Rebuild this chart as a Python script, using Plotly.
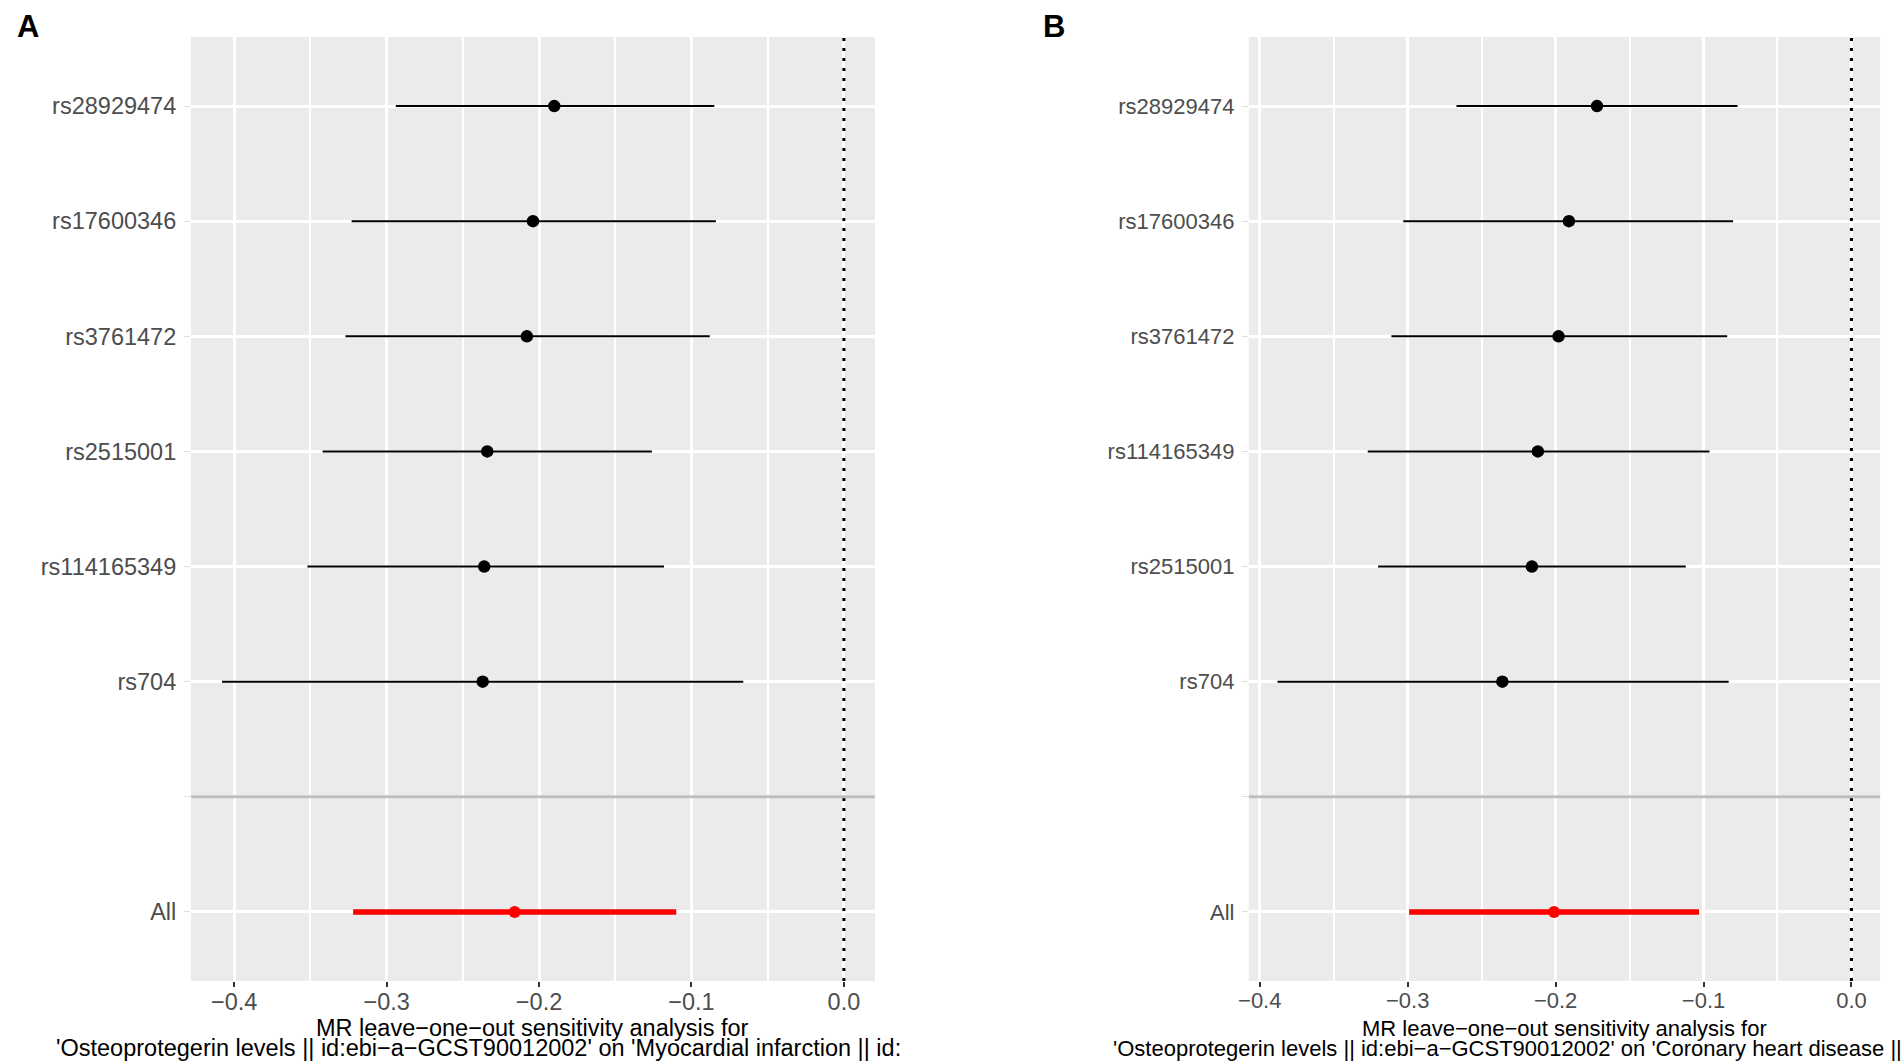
import plotly.graph_objects as go

W, H = 1904, 1062

# ---- Panel A data (Myocardial infarction) ----
snps_a = ["rs28929474", "rs17600346", "rs3761472", "rs2515001", "rs114165349", "rs704"]
b_a = [-0.190, -0.204, -0.208, -0.234, -0.236, -0.237]
lo_a = [-0.294, -0.323, -0.327, -0.342, -0.352, -0.408]
hi_a = [-0.085, -0.084, -0.088, -0.126, -0.118, -0.066]
all_a = [-0.216, -0.322, -0.110]   # b, lo, hi

# ---- Panel B data (Coronary heart disease) ----
snps_b = ["rs28929474", "rs17600346", "rs3761472", "rs114165349", "rs2515001", "rs704"]
b_b = [-0.172, -0.191, -0.198, -0.212, -0.216, -0.236]
lo_b = [-0.267, -0.303, -0.311, -0.327, -0.320, -0.388]
hi_b = [-0.077, -0.080, -0.084, -0.096, -0.112, -0.083]
all_b = [-0.201, -0.299, -0.103]

x_ticks = [-0.4, -0.3, -0.2, -0.1, 0.0]
null_effect = 0.0
title_line1 = "MR leave\u2212one\u2212out sensitivity analysis for"
title_a2 = "'Osteoprotegerin levels || id:ebi\u2212a\u2212GCST90012002' on 'Myocardial infarction || id:"
title_b2 = "'Osteoprotegerin levels || id:ebi\u2212a\u2212GCST90012002' on 'Coronary heart disease ||"

FONT = "Liberation Sans, Arial, sans-serif"
BG = "#EBEBEB"

panels = [
    dict(snps=snps_a, b=b_a, lo=lo_a, hi=hi_a, all=all_a, xd=(181, 869), fs=23.5,
         t1c=525, t2=title_a2, t2x=43, label="A", lx=4),
    dict(snps=snps_b, b=b_b, lo=lo_b, hi=hi_b, all=all_b, xd=(1245, 1880), fs=22,
         t1c=1563, t2=title_b2, t2x=1106, label="B", lx=1036),
]

fig = go.Figure()
PLOT_TOP, PLOT_BOT = 37, 981
y_dom = [1 - PLOT_BOT / H, 1 - PLOT_TOP / H]

for i, p in enumerate(panels, start=1):
    xa = "x" if i == 1 else f"x{i}"
    ya = "y" if i == 1 else f"y{i}"
    levels = ["All", ""] + p["snps"][::-1]
    ypos = [levels.index(s) + 1 for s in p["snps"]]
    y_all = levels.index("All") + 1
    y_blank = levels.index("") + 1
    yr = [0.4, len(levels) + 0.6]

    # dotted reference line at zero (drawn first, under the estimates)
    fig.add_trace(go.Scatter(
        x=[null_effect, null_effect], y=yr, xaxis=xa, yaxis=ya, mode="lines",
        line=dict(color="black", width=3, dash="3px,7px"),
        showlegend=False, hoverinfo="skip", cliponaxis=True))

    fig.add_trace(go.Scatter(
        x=p["b"], y=ypos, xaxis=xa, yaxis=ya, mode="markers",
        marker=dict(color="black", size=12.5),
        error_x=dict(type="data", symmetric=False,
                     array=[h - b for h, b in zip(p["hi"], p["b"])],
                     arrayminus=[b - l for b, l in zip(p["b"], p["lo"])],
                     color="black", thickness=2, width=0),
        showlegend=False, hoverinfo="skip"))
    ba, la, ha = p["all"]
    fig.add_trace(go.Scatter(
        x=[ba], y=[y_all], xaxis=xa, yaxis=ya, mode="markers",
        marker=dict(color="#FF0000", size=12),
        error_x=dict(type="data", symmetric=False, array=[ha - ba], arrayminus=[ba - la],
                     color="#FF0000", thickness=5.5, width=0),
        showlegend=False, hoverinfo="skip"))

    lo_all = min(p["lo"] + [la, null_effect])
    hi_all = max(p["hi"] + [ha, null_effect])
    pad = (hi_all - lo_all) * 0.05
    xr = [lo_all - pad, hi_all + pad]

    xd = [p["xd"][0] / W, p["xd"][1] / W]
    fig.update_layout(**{
        ("xaxis" if i == 1 else f"xaxis{i}"): dict(
            domain=xd, anchor=ya, range=xr, tickvals=x_ticks, tickformat=".1f",
            showgrid=True, gridcolor="white", gridwidth=3,
            minor=dict(dtick=0.05, tick0=0, showgrid=True, gridcolor="white", gridwidth=1.5),
            zeroline=False, showline=False, ticks="outside", ticklen=5, tickwidth=2,
            tickcolor="#333333", tickfont=dict(family=FONT, size=p["fs"], color="#4D4D4D"),
            ticklabelstandoff=-5, fixedrange=True),
        ("yaxis" if i == 1 else f"yaxis{i}"): dict(
            domain=y_dom, anchor=xa, range=yr,
            tickvals=list(range(1, len(levels) + 1)), ticktext=levels,
            showgrid=True, gridcolor="white", gridwidth=3, zeroline=False, showline=False,
            ticks="outside", ticklen=6, tickwidth=1, tickcolor="#DDDDDD",
            tickfont=dict(family=FONT, size=p["fs"], color="#4D4D4D"),
            ticklabelstandoff=3, fixedrange=True),
    })

    # grey separator at the blank level
    fig.add_shape(type="line", xref=f"{xa} domain", yref=ya, x0=0, x1=1,
                  y0=y_blank, y1=y_blank, line=dict(color="#BEBEBE", width=3))

    fig.add_annotation(text=title_line1, xref="paper", yref="paper", x=p["t1c"] / W,
                       y=1 - 1028 / H, xanchor="center", yanchor="middle", showarrow=False,
                       font=dict(family=FONT, size=p["fs"], color="black"))
    fig.add_annotation(text=p["t2"], xref="paper", yref="paper", x=p["t2x"] / W,
                       y=1 - 1048 / H, xanchor="left", yanchor="middle", showarrow=False,
                       font=dict(family=FONT, size=p["fs"], color="black"))
    fig.add_annotation(text="<b>" + p["label"] + "</b>", xref="paper", yref="paper",
                       x=p["lx"] / W, y=1 - 26 / H, xanchor="left", yanchor="middle",
                       showarrow=False, font=dict(family=FONT, size=31, color="black"))

fig.update_layout(width=W, height=H, margin=dict(l=0, r=0, t=0, b=0),
                  paper_bgcolor="white", plot_bgcolor=BG, showlegend=False)

fig.write_html("out.html", config={"displayModeBar": False},
               post_script="document.body.style.margin='0';document.body.style.overflow='hidden';")
